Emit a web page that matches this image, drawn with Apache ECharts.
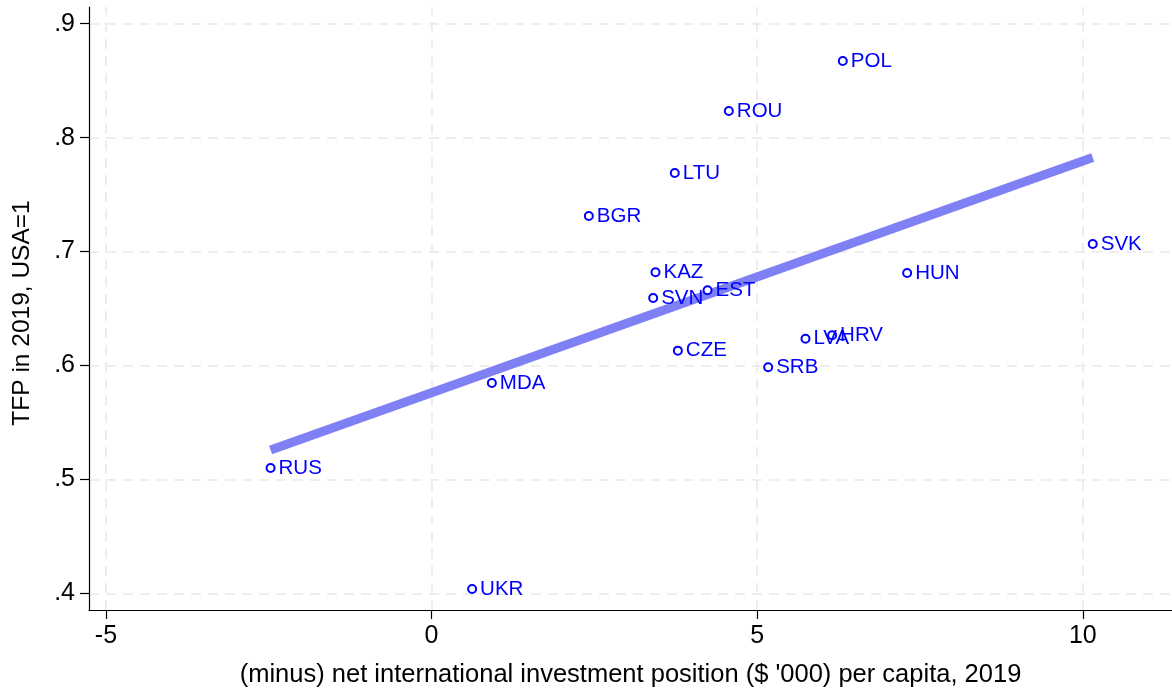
<!DOCTYPE html>
<html>
<head>
<meta charset="utf-8">
<script src="https://cdn.jsdelivr.net/npm/echarts@6/dist/echarts.min.js"></script>
<style>
html,body{margin:0;padding:0;background:#fff;}
#chart{width:1172px;height:691px;}
</style>
</head>
<body>
<div id="chart"></div>
<script>
const countries = ['POL','ROU','LTU','BGR','SVK','KAZ','HUN','EST','SVN','LVA','HRV','CZE','SRB','MDA','RUS','UKR'];
const xVals = [6.315, 4.565, 3.735, 2.415, 10.153, 3.439, 7.303, 4.238, 3.403, 5.742, 6.151, 3.782, 5.169, 0.926, -2.472, 0.623];
const yVals = [0.8673, 0.8234, 0.7689, 0.7312, 0.7066, 0.6818, 0.6812, 0.6660, 0.6592, 0.6235, 0.6265, 0.6130, 0.5984, 0.5846, 0.5100, 0.4038];
const fitX = [-2.472, 10.153];
const fitY = [0.5258, 0.7826];
const xTicks = [-5, 0, 5, 10];
const yTicks = [0.4, 0.5, 0.6, 0.7, 0.8, 0.9];

const xTitle = "(minus) net international investment position ($ '000) per capita, 2019";
const yTitle = 'TFP in 2019, USA=1';

const FONT = '"Liberation Sans", Arial, sans-serif';
const scatterData = countries.map((c, i) => ({ name: c, value: [xVals[i], yVals[i]] }));
const fitData = fitX.map((x, i) => [x, fitY[i]]);

const gridLineStyle = { color: '#e9e9e9', width: 1.6, type: [10, 7] };
const gridMarks = xTicks.map(v => ({ xAxis: v })).concat(yTicks.map(v => ({ yAxis: v })));

const chart = echarts.init(document.getElementById('chart'), null, { renderer: 'canvas' });
chart.setOption({
  animation: false,
  backgroundColor: '#ffffff',
  textStyle: { fontFamily: FONT },
  grid: { left: 89, right: 0, top: 7, bottom: 81, containLabel: false, outerBoundsMode: 'none' },
  xAxis: {
    type: 'value',
    min: -5.26, max: 11.37,
    name: xTitle,
    nameLocation: 'middle',
    nameGap: 52,
    nameTextStyle: { fontSize: 25.5, color: '#000', fontFamily: FONT },
    axisLine: { show: true, onZero: false, lineStyle: { color: '#000', width: 1.2 } },
    axisTick: { show: true, length: 9, customValues: xTicks, lineStyle: { color: '#000', width: 1.2 } },
    axisLabel: { customValues: xTicks, fontSize: 25, color: '#000', margin: 14, fontFamily: FONT,
      formatter: v => String(v) },
    splitLine: { show: false }
  },
  yAxis: {
    type: 'value',
    min: 0.3853, max: 0.9147,
    name: yTitle,
    nameLocation: 'middle',
    nameGap: 54,
    nameRotate: 90,
    nameTextStyle: { fontSize: 24.5, color: '#000', fontFamily: FONT, padding: [0, 9, 0, 0] },
    axisLine: { show: true, onZero: false, lineStyle: { color: '#000', width: 1.2 } },
    axisTick: { show: true, length: 9, customValues: yTicks, lineStyle: { color: '#000', width: 1.2 } },
    axisLabel: { customValues: yTicks, fontSize: 25, color: '#000', margin: 14, fontFamily: FONT,
      formatter: v => (Math.round(v * 10) / 10).toFixed(1).replace(/^0/, '') },
    splitLine: { show: false }
  },
  series: [
    {
      type: 'line',
      data: [],
      silent: true,
      z: 0,
      markLine: {
        silent: true,
        z: 0,
        symbol: ['none', 'none'],
        label: { show: false },
        lineStyle: gridLineStyle,
        emphasis: { disabled: true },
        data: gridMarks
      }
    },
    {
      type: 'line',
      data: fitData,
      showSymbol: false,
      symbol: 'none',
      z: 6,
      lineStyle: { color: '#8080f5', width: 9, cap: 'butt' },
      silent: true
    },
    {
      type: 'scatter',
      data: scatterData,
      z: 8,
      symbol: 'circle',
      symbolSize: 8,
      itemStyle: { color: '#ffffff', borderColor: '#0000ff', borderWidth: 2, opacity: 1 },
      label: {
        show: true,
        position: 'right',
        distance: 3,
        formatter: p => p.name,
        color: '#0000ff',
        fontSize: 20.5,
        fontFamily: FONT
      },
      labelLayout: { hideOverlap: false }
    }
  ]
});
</script>
</body>
</html>
